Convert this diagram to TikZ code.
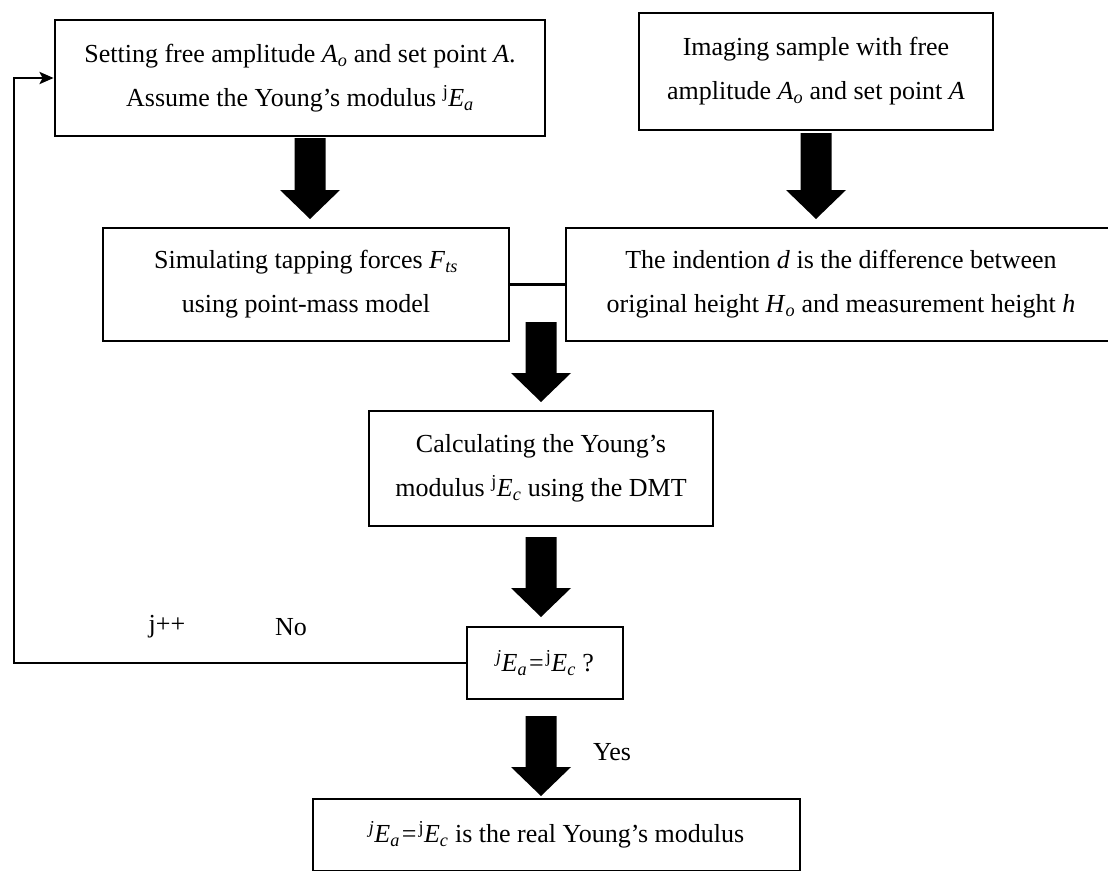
\documentclass[tikz,border=0pt]{standalone}
\usepackage{fontspec}
\setmainfont{Liberation Serif}
\usetikzlibrary{arrows.meta,calc}
\newcommand{\BArrow}[2]{\fill let \p1=(#1), \p2=(#2) in
  (\x1-15.5pt,\y1) -- (\x1+15.5pt,\y1) -- (\x1+15.5pt,\y2+29pt) -- (\x1+30pt,\y2+29pt)
  -- (\x2,\y2) -- (\x1-30pt,\y2+29pt) -- (\x1-15.5pt,\y2+29pt) -- cycle;}
\newcommand{\Ea}{\textit{E}\textsubscript{\textit{a}}}
\newcommand{\Ec}{\textit{E}\textsubscript{\textit{c}}}
\newcommand{\Eq}{\kern2pt=\kern2pt}
\begin{document}
\begin{tikzpicture}[x=1pt,y=-1pt,
  box/.style={draw, line width=2.8pt, align=center, inner sep=0pt,
    font=\fontsize{26}{44}\selectfont},
  lbl/.style={font=\fontsize{26}{30}\selectfont, inner sep=0pt},
  link/.style={line width=2.8pt, line join=miter}]
\useasboundingbox (0,0) rectangle (1108,870);
\fill[white] (0,0) rectangle (1108,870);

\node[box, minimum width=490pt, minimum height=116pt] (b1) at (300,78)
  {Setting free amplitude \textit{A}\textsubscript{\textit{o}} and set point \textit{A}.\\
   Assume the Young’s modulus \textsuperscript{j}\Ea};
\node[box, minimum width=354pt, minimum height=117pt] (b2) at (816,71.5)
  {Imaging sample with free\\
   amplitude \textit{A}\textsubscript{\textit{o}} and set point \textit{A}};
\node[box, minimum width=406pt, minimum height=113pt] (b3) at (306,284.5)
  {Simulating tapping forces \textit{F}\textsubscript{\textit{ts}}\\
   using point-mass model};
\node[box, minimum width=550pt, minimum height=113pt] (b4) at (841,284.5)
  {The indention \textit{d} is the difference between\\
   original height \textit{H}\textsubscript{\textit{o}} and measurement height \textit{h}};
\node[box, minimum width=344pt, minimum height=115pt] (b5) at (541,468.5)
  {Calculating the Young’s\\
   modulus \textsuperscript{j}\Ec{} using the DMT};
\node[box, minimum width=156pt, minimum height=72pt] (b6) at (545,663)
  {\textsuperscript{\textit{j}}\Ea\Eq\textsuperscript{j}\Ec{} ?};
\node[box, minimum width=487pt, minimum height=72pt] (b7) at (556.5,835)
  {\textsuperscript{\textit{j}}\Ea\Eq\textsuperscript{j}\Ec{} is the real Young’s modulus};

\draw[link] (b3.east) -- (b4.west);

\coordinate (fb) at (14,663);
\draw[link, -{Stealth[length=14pt,width=12pt,inset=3pt]}] (b6.west) -- (fb) |- (b1.west);

\node[lbl] (jpp) at (167,627) {j++};
\node[lbl] (no) at (291,627) {No};
\node[lbl] (yes) at (612,752) {Yes};

\coordinate (a1s) at (310,138); \coordinate (a1e) at (310,219);
\coordinate (a2s) at (816,133); \coordinate (a2e) at (816,219);
\coordinate (a3s) at (541,322); \coordinate (a3e) at (541,402);
\coordinate (a4s) at (541,537); \coordinate (a4e) at (541,617);
\coordinate (a5s) at (541,716); \coordinate (a5e) at (541,796);
\BArrow{a1s}{a1e}
\BArrow{a2s}{a2e}
\BArrow{a3s}{a3e}
\BArrow{a4s}{a4e}
\BArrow{a5s}{a5e}
\end{tikzpicture}
\end{document}
